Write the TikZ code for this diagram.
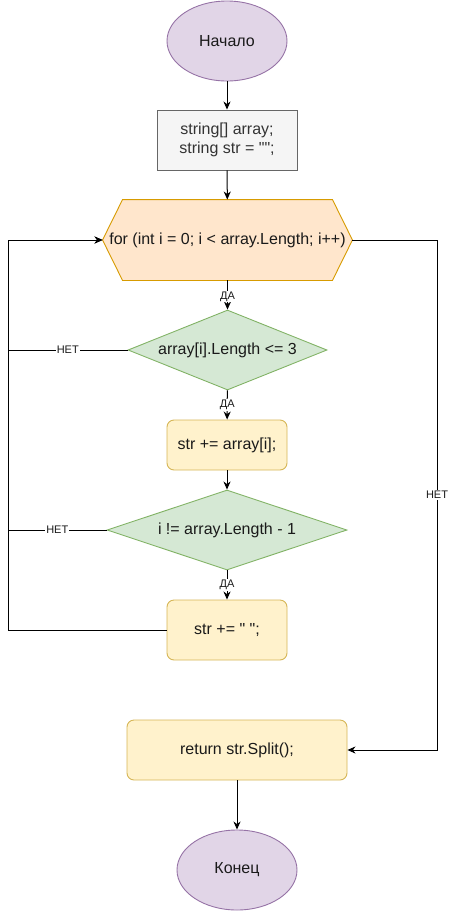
\documentclass[tikz,border=0pt]{standalone}
\usepackage{fontspec}
\setmainfont{Liberation Sans}[Ligatures=TeXOff]
\usetikzlibrary{shapes.geometric,arrows.meta,calc,backgrounds}
\definecolor{purfill}{HTML}{E1D5E7}
\definecolor{purline}{HTML}{9673A6}
\definecolor{grayfill}{HTML}{F5F5F5}
\definecolor{grayline}{HTML}{666666}
\definecolor{graytext}{HTML}{333333}
\definecolor{orfill}{HTML}{FFE6CC}
\definecolor{orline}{HTML}{D79B00}
\definecolor{grfill}{HTML}{D5E8D4}
\definecolor{grline}{HTML}{82B366}
\definecolor{yefill}{HTML}{FFF2CC}
\definecolor{yeline}{HTML}{D6B656}
\definecolor{txt}{HTML}{1A1A1A}
\begin{document}
\begin{tikzpicture}[x=1pt,y=-1pt,
  base/.style={font=\fontsize{16}{19}\selectfont, text=txt, inner sep=0pt, line width=0.9pt, align=center},
  term/.style={base, ellipse, draw=purline, fill=purfill, minimum width=120pt, minimum height=80pt},
  initbox/.style={base, rectangle, draw=grayline, fill=grayfill, text=graytext, minimum width=140pt, minimum height=60pt},
  procbox/.style={base, rectangle, rounded corners=7pt, draw=yeline, fill=yefill},
  decision/.style={base, diamond, aspect=2.5, draw=grline, fill=grfill},
  hexline/.style={draw=orline, fill=orfill, line width=0.9pt},
  flow/.style={line width=1pt, -{Stealth[length=8pt,width=7pt,inset=2.5pt]}},
  plain/.style={line width=1pt},
  lbl/.style={font=\fontsize{11}{12}\selectfont, text=txt, fill=white, inner sep=1pt}
]
\useasboundingbox (0,0) rectangle (449,911);

\node[term] (start) at (227,41) {Начало};
\node[initbox] (init) at (227,140) {string[] array;\\string str = "";};
\node[base, minimum width=249pt, minimum height=80pt] (loop) at (227.5,240) {for (int i = 0; i < array.Length; i++)};
\begin{scope}[on background layer]
\path[hexline] (loop.west) -- ($(loop.north west)+(20,0)$) -- ($(loop.north east)+(-20,0)$) -- (loop.east) -- ($(loop.south east)+(-20,0)$) -- ($(loop.south west)+(20,0)$) -- cycle;
\end{scope}

\node[decision, minimum width=199pt, minimum height=80pt] (d1) at (227.5,350) {array[i].Length <= 3};
\node[procbox, minimum width=120pt, minimum height=50pt] (b2) at (227,445) {str += array[i];};
\node[decision, minimum width=240pt, minimum height=80pt] (d2) at (227,530) {i != array.Length - 1};
\node[procbox, minimum width=120pt, minimum height=60pt] (b3) at (227,630) {str += " ";};
\node[procbox, minimum width=220pt, minimum height=60pt] (b4) at (237,750) {return str.Split();};
\node[term] (end) at (237,870) {Конец};

\coordinate (lt) at (8,240);
\coordinate (l1) at (8,350);
\coordinate (l2) at (8,530);
\coordinate (l3) at (8,630);
\coordinate (rt) at (437,240);
\coordinate (rb) at (437,750);

\draw[flow] (start) -- (init);
\draw[flow] (init) -- (loop);
\draw[flow] (loop) -- node[lbl, pos=0.55] {ДА} (d1);
\draw[flow] (d1) -- node[lbl, pos=0.5] {ДА} (b2);
\draw[flow] (b2) -- (d2);
\draw[flow] (d2) -- node[lbl, pos=0.5] {ДА} (b3);
\draw[flow] (b4) -- (end);

\draw[flow] (d1.west) -- node[lbl, pos=0.5] {НЕТ} (l1) -- (lt) -- (loop.west);
\draw[plain] (d2.west) -- node[lbl, pos=0.5] {НЕТ} (l2);
\draw[flow] (b3.west) -- (l3) -- (lt) -- (loop.west);
\draw[flow] (loop.east) -- (rt) -- node[lbl, pos=0.5] {НЕТ} (rb) -- (b4.east);
\end{tikzpicture}
\end{document}
